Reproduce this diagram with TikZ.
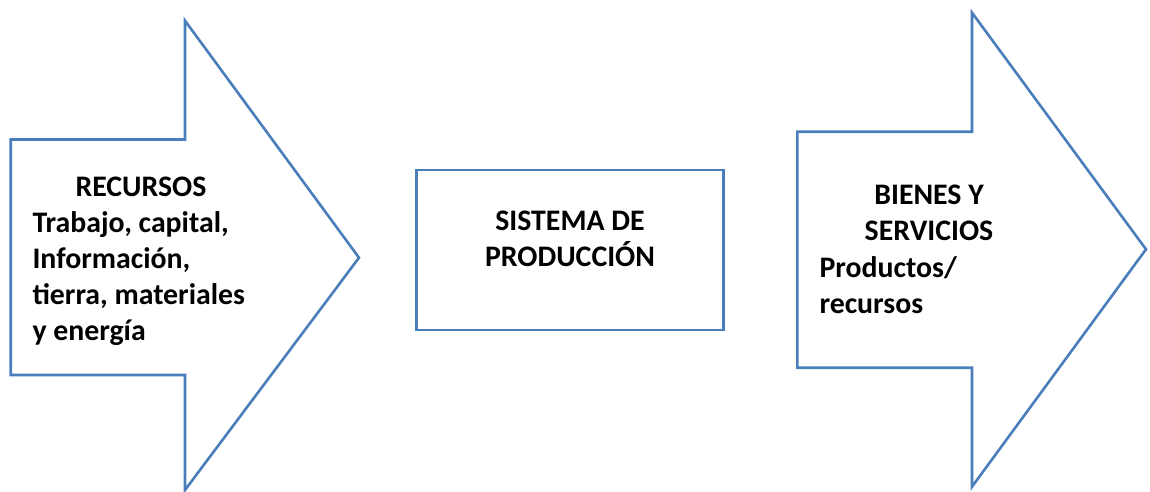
\documentclass[tikz,border=0pt]{standalone}
\usepackage{fontspec}
\setmainfont{Carlito}
\definecolor{edgeblue}{HTML}{4A7EBB}
\begin{document}
\begin{tikzpicture}[x=1pt,y=-1pt,
  outline/.style={draw=edgeblue, line width=2.6pt, line join=miter},
  lbl/.style={font=\bfseries\fontsize{29.8}{36}\selectfont, inner sep=0pt, anchor=base west},
  clbl/.style={lbl, anchor=base}]
\useasboundingbox (0,0) rectangle (1150,491);
% left arrow
\draw[outline] (10.7,139.5) -- (185,139.5) -- (185,20.7) -- (359,257.7) -- (185,490) -- (185,375) -- (10.7,375) -- cycle;
% middle box
\draw[outline] (416.7,170) rectangle (723.3,330);
% right arrow
\draw[outline] (797.3,131.7) -- (972,131.7) -- (972,12.7) -- (1146,249.3) -- (972,486.7) -- (972,367.7) -- (797.3,367.7) -- cycle;
% left texts
\node[clbl] (l1) at (141,196) {RECURSOS};
\node[lbl] (l2) at (32.3,232) {Trabajo, capital,};
\node[lbl] (l3) at (32.3,268) {Información,};
\node[lbl] (l4) at (32.3,304) {tierra, materiales};
\node[lbl] (l5) at (32.3,340) {y energía};
% middle texts
\node[clbl] (m1) at (570,230) {SISTEMA DE};
\node[clbl] (m2) at (570,266.7) {PRODUCCIÓN};
% right texts
\node[clbl] (r1) at (929,204.3) {BIENES Y};
\node[clbl] (r2) at (929,240.7) {SERVICIOS};
\node[lbl] (r3) at (819.3,277.3) {Productos/};
\node[lbl] (r4) at (819.3,313.3) {recursos};
\end{tikzpicture}
\end{document}
